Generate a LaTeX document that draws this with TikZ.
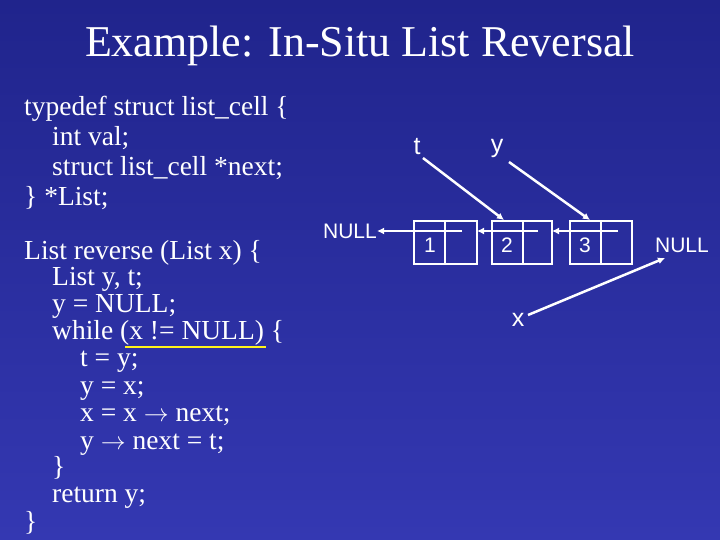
\documentclass[tikz,border=0pt]{standalone}
\usepackage{fontspec}
\setmainfont{Liberation Serif}
\setsansfont{Liberation Sans}
\begin{document}
\begin{tikzpicture}[x=1pt,y=-1pt,
 code/.style={anchor=base west,text=white,inner sep=0pt,font=\fontsize{27.5}{27.5}\selectfont},
 lbl/.style={text=white,inner sep=0pt,font=\sffamily\fontsize{21}{21}\selectfont},
 var/.style={text=white,inner sep=0pt,font=\sffamily\fontsize{25}{25}\selectfont},
 cell/.style={draw=white,line width=2pt},
 ptr/.style={draw=white,line width=2.5pt,-{Latex[length=7pt,width=7pt]}}]
\usetikzlibrary{arrows.meta}
\shade[top color={rgb,255:red,32;green,36;blue,140},bottom color={rgb,255:red,52;green,56;blue,178}] (0,0) rectangle (720,540);
\useasboundingbox (0,0) rectangle (720,540);
\node[text=white,font=\fontsize{44}{44}\selectfont] (title) at (360,46) {Example: In-Situ List Reversal};
\node[code] (c1) at (24,116) {typedef struct list\_cell \{};
\node[code] (c2) at (52,146) {int val;};
\node[code] (c3) at (52,176) {struct list\_cell *next;};
\node[code] (c4) at (24,206) {\} *List;};
\node[code] (c5) at (24,259) {List reverse (List x) \{};
\node[code] (c6) at (52,285) {List y, t;};
\node[code] (c7) at (52,312) {y = NULL;};
\node[code] (c8) at (52,339) {while (x != NULL) \{};
\node[code] (c9) at (80,366) {t = y;};
\node[code] (c10) at (80,394) {y = x;};
\node[code] (c11) at (80,421) {x = x $\rightarrow$ next;};
\node[code] (c12) at (80,449) {y $\rightarrow$ next = t;};
\node[code] (c13) at (52,475) {\}};
\node[code] (c14) at (52,502) {return y;};
\node[code] (c15) at (24,530) {\}};
\coordinate (u1) at (125,347); \coordinate (u2) at (266,347);
\draw[yellow!90!white,line width=2.5pt] (u1) -- (u2);
% cells
\draw[cell] (414,221) rectangle (477,264) (445,221) -- (445,264);
\draw[cell] (492,221) rectangle (552,264) (523,221) -- (523,264);
\draw[cell] (570,221) rectangle (632,264) (601,221) -- (601,264);
\node[lbl] at (430,245) {1};
\node[lbl] at (507,245) {2};
\node[lbl] at (585,245) {3};
\node[lbl] (nl) at (350,231) {NULL};
\node[lbl] (nr) at (682,245) {NULL};
\node[var] (t) at (417,147) {t};
\node[var] (y) at (497,148) {y};
\node[var] (x) at (518,320) {x};
\coordinate (p1) at (462,231); \coordinate (p2) at (538,231); \coordinate (p3) at (618,231);
\draw[ptr,line width=2pt] (p1) -- (nl.east);
\draw[ptr,line width=2pt] (p2) -- (477,231);
\draw[ptr,line width=2pt] (p3) -- (552,231);
\coordinate (c2top) at (504,220); \coordinate (c3top) at (590,220);
\draw[ptr] (423,158) -- (c2top);
\draw[ptr] (509,162) -- (c3top);
\draw[ptr] (528,315) -- (665,258);
\end{tikzpicture}
\end{document}
